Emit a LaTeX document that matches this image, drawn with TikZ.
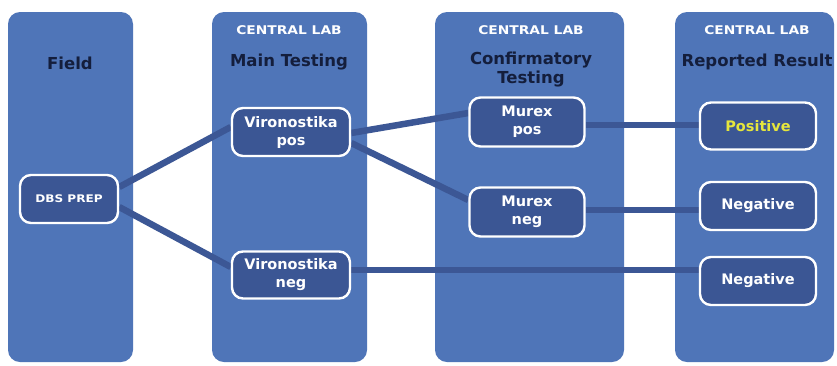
\documentclass[tikz,border=0pt]{standalone}
\usepackage{fontspec}
\setmainfont{DejaVu Sans}
\newfontfamily\widefont{DejaVu Sans}[FakeStretch=1.15]
\definecolor{panelblue}{HTML}{4F75B8}
\definecolor{nodeblue}{HTML}{3B5694}
\definecolor{linkblue}{HTML}{3C5795}
\definecolor{headnavy}{HTML}{141E3C}
\definecolor{posyellow}{HTML}{E6E63C}
\pgfdeclarelayer{panels}
\pgfdeclarelayer{links}
\pgfsetlayers{panels,links,main}
\tikzset{
  panel/.style={fill=panelblue, draw=none, rounded corners=12pt},
  stage/.style={fill=nodeblue, draw=white, line width=2.4pt, rounded corners=11pt,
    text=white, align=center, inner sep=0pt,
    font=\fontsize{14.5}{18}\selectfont\bfseries},
  link/.style={draw=linkblue, line width=6.5pt},
  head/.style={text=headnavy, align=center, font=\fontsize{16.5}{19}\selectfont\bfseries},
  lab/.style={text=white, font=\widefont\fontsize{12}{13}\selectfont\bfseries}
}
\begin{document}
\begin{tikzpicture}[x=1pt,y=-1pt]
\useasboundingbox (0,0) rectangle (837,365);
\begin{pgfonlayer}{panels}
\fill[white] (0,0) rectangle (837,365);
\path[panel] (8,12) rectangle (133,362);
\path[panel] (212,12) rectangle (367,362);
\path[panel] (435,12) rectangle (624,362);
\path[panel] (675,12) rectangle (834,362);
\end{pgfonlayer}
% headers
\node[head] (hfield) at (70,63) {Field};
\node[lab] (lab2) at (289,30) {CENTRAL LAB};
\node[head] (hmain) at (289,62) {Main Testing};
\node[lab] (lab3) at (531,30) {CENTRAL LAB};
\node[head] (hconf) at (531,70) {Confirmatory\\Testing};
\node[lab] (lab4) at (757,30) {CENTRAL LAB};
\node[head] (hrep) at (757,62) {Reported Result};
% nodes
\node[stage, minimum width=98pt, minimum height=48pt, font=\widefont\fontsize{10.5}{12}\selectfont\bfseries] (dbs) at (69,199) {DBS PREP};
\node[stage, minimum width=118pt, minimum height=48pt] (vpos) at (291,132) {Vironostika\\pos};
\node[stage, minimum width=118pt, minimum height=47pt] (vneg) at (291,275) {Vironostika\\neg};
\node[stage, minimum width=115pt, minimum height=49pt] (mpos) at (527,122) {Murex\\pos};
\node[stage, minimum width=115pt, minimum height=49pt] (mneg) at (527,212) {Murex\\neg};
\node[stage, minimum width=116pt, minimum height=47pt, text=posyellow] (rpos) at (758,126) {Positive};
\node[stage, minimum width=116pt, minimum height=48pt] (rneg1) at (758,206) {Negative};
\node[stage, minimum width=116pt, minimum height=48pt] (rneg2) at (758,281) {Negative};
% links
\begin{pgfonlayer}{links}
\draw[link] ([yshift=12pt]dbs.east) -- ([yshift=5pt]vpos.west);
\draw[link] ([yshift=-8pt]dbs.east) -- ([yshift=8pt]vneg.west);
\draw[link] ([yshift=-1pt]vpos.east) -- ([yshift=9pt]mpos.west);
\draw[link] ([yshift=-11pt]vpos.east) -- ([yshift=12pt]mneg.west);
\draw[link] ([yshift=-3pt]mpos.east) -- ([yshift=1pt]rpos.west);
\draw[link] ([yshift=2pt]mneg.east) -- ([yshift=-4pt]rneg1.west);
\draw[link] ([yshift=5pt]vneg.east) -- ([yshift=11pt]rneg2.west);
\end{pgfonlayer}
\end{tikzpicture}
\end{document}
